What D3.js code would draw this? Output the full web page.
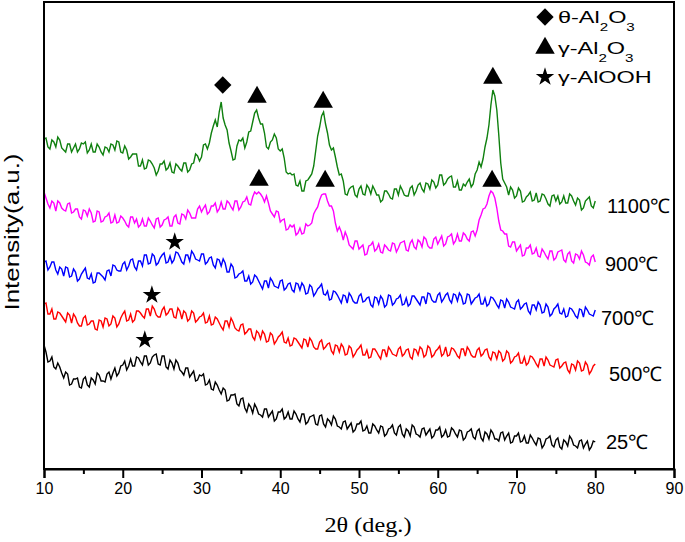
<!DOCTYPE html>
<html>
<head>
<meta charset="utf-8">
<script src="https://cdn.jsdelivr.net/npm/d3@7"></script>
<style>
  body { margin: 0; background: #fff; }
  text { font-family: "Liberation Sans", Arial, sans-serif; }
</style>
</head>
<body>
<div id="chart"></div>
<script>
var width = 685, height = 542;
var margin = {top: 2, right: 11, bottom: 73, left: 44};

// 2theta sampling grid (deg), 10..80 every 0.25
var twoTheta = d3.range(10, 80.1, 0.25);
var xTicks = [10, 20, 30, 40, 50, 60, 70, 80, 90];
var xMinorTicks = [15, 25, 35, 45, 55, 65, 75, 85];

// intensities (a.u., curves already stacked like the figure), one row = 2.5 deg
var int1100 = [331,332,323,321,330,328,323,333,330,322,320,318,326,326,318,322,326,318,321,327,
  326,328,317,320,326,318,318,326,323,318,315,323,322,318,326,325,320,329,328,318,
  317,324,320,311,313,316,316,316,304,304,310,301,302,310,309,306,302,295,299,306,
  306,309,300,302,307,298,297,306,304,301,299,307,307,298,300,306,307,316,314,309,
  313,325,326,321,327,337,344,350,343,358,368,352,345,340,327,319,310,311,324,330,
  329,332,322,328,338,339,348,357,360,352,346,346,337,323,321,328,330,336,332,321,
  319,321,312,298,296,297,295,296,285,284,289,279,279,289,290,293,296,304,319,334,
  343,354,358,346,337,325,320,322,313,303,295,296,289,276,275,281,283,284,275,273,
  281,284,276,275,285,282,276,284,280,275,275,268,270,279,279,276,272,271,281,281,
  275,284,280,275,274,274,282,284,275,279,285,287,281,278,287,286,281,290,288,282,
  285,295,295,285,287,291,293,294,283,283,289,280,280,286,284,288,291,283,286,296,
  300,308,303,311,323,332,345,365,380,374,360,335,307,291,287,283,275,283,280,272,
  274,282,279,268,269,273,275,278,269,270,277,268,269,276,275,271,266,264,274,275,
  269,274,266,268,274,267,267,276,274,269,265,272,270,260,262,269,271,273,264,262,
  269];
var int900 = [278,272,266,262,269,267,259,269,267,262,260,259,266,267,257,258,261,261,253,251,
  260,259,254,261,257,248,249,259,258,248,249,253,254,257,247,248,255,247,248,254,
  252,249,245,243,253,253,247,251,243,245,251,244,244,252,249,245,242,251,252,243,
  245,250,251,253,244,244,253,255,247,246,256,255,251,260,257,252,252,252,261,264,
  258,262,265,256,258,264,264,267,258,261,268,261,261,269,267,263,260,269,269,260,
  263,268,269,273,266,265,273,278,276,278,276,273,268,274,267,259,256,253,259,258,
  248,250,251,240,241,245,243,245,235,237,242,236,237,246,244,245,247,256,260,263,
  270,275,276,276,269,264,264,259,247,239,243,238,230,238,233,225,223,221,229,229,
  221,223,225,215,216,224,225,228,219,221,226,218,217,225,223,220,219,227,226,218,
  222,227,228,229,220,219,227,230,223,221,230,228,223,233,231,224,222,222,231,233,
  226,230,234,224,226,233,234,236,226,229,236,229,229,237,235,231,229,238,239,234,
  240,250,255,261,262,266,274,279,277,272,262,249,240,239,236,236,224,223,228,228,
  219,222,225,214,215,222,222,225,216,217,222,214,213,221,218,214,211,219,219,210,
  212,218,219,220,210,208,216,218,209,207,216,215,211,219,215,208,207,205,213,215,
  208];
var int700 = [208,209,200,203,208,208,200,196,203,201,194,203,202,193,194,201,198,189,191,196,
  199,202,192,191,196,187,188,197,197,195,193,190,199,200,194,205,204,200,199,199,
  206,208,200,204,210,211,203,200,209,209,204,215,215,206,207,216,214,205,207,212,
  215,217,207,208,214,207,210,218,217,213,208,206,215,215,209,219,216,211,210,209,
  216,216,206,208,212,213,205,202,211,210,204,211,207,198,198,206,203,192,193,196,
  197,199,189,189,194,186,188,195,193,189,185,181,189,189,182,192,189,184,183,182,
  189,190,180,182,186,187,180,178,187,186,180,187,184,176,177,185,183,174,177,181,
  183,186,176,175,179,170,171,179,178,175,171,167,175,174,167,177,174,169,167,167,
  174,176,168,169,172,173,165,163,173,172,166,174,171,163,165,175,174,165,167,171,
  172,175,165,166,172,164,166,174,174,171,168,165,173,173,166,177,176,170,168,168,
  175,177,168,171,175,177,170,167,176,175,169,177,174,166,167,176,175,166,169,172,
  173,176,166,166,172,164,166,173,172,169,165,162,170,169,162,171,168,163,162,161,
  168,170,161,163,166,167,159,156,165,165,160,168,165,157,158,166,163,154,156,161,
  163,166,157,156,161,153,154,162,161,158,154,152,161,160,153,163,160,156,155,154,
  160];
var int500 = [166,167,156,156,161,151,151,158,157,154,151,148,157,155,147,156,153,147,144,144,
  152,154,145,146,149,149,141,140,150,149,143,152,151,144,146,154,152,143,146,152,
  156,159,149,150,156,148,150,159,159,157,154,152,161,161,154,164,161,155,153,153,
  160,163,155,157,161,161,153,152,162,159,151,159,157,149,151,159,157,148,150,153,
  154,157,147,148,154,145,146,153,151,147,143,140,149,149,143,152,148,142,140,139,
  145,146,136,138,141,141,133,130,139,137,131,139,136,128,129,137,135,126,129,133,
  135,138,128,127,132,124,125,132,131,128,125,122,131,130,123,132,129,123,121,121,
  128,130,121,123,126,127,119,116,125,124,118,126,123,115,116,124,122,113,116,120,
  122,125,115,115,120,112,113,121,121,118,114,111,120,120,113,123,120,116,115,114,
  121,123,114,116,120,121,113,111,121,120,115,123,121,113,115,124,122,113,115,119,
  121,124,114,116,123,114,115,122,121,118,114,112,121,121,114,123,120,115,113,113,
  120,122,114,116,120,121,113,110,118,117,111,119,117,109,111,119,117,107,109,113,
  114,117,107,107,113,105,107,114,113,110,106,103,111,111,104,113,110,105,104,103,
  110,111,102,104,107,108,100,97,106,105,100,109,107,99,100,108,105,96,99,104,
  106];
var int25 = [125,118,108,109,113,103,101,107,103,97,92,98,96,85,86,91,91,92,83,82,
  91,93,85,83,92,90,86,97,95,89,89,88,96,98,91,97,102,94,97,104,
  105,109,100,104,111,104,104,113,112,108,105,114,114,105,107,113,115,116,106,105,
  114,114,103,101,110,107,101,110,107,100,98,95,102,102,93,96,99,89,90,95,
  94,96,85,86,90,81,80,88,85,80,76,82,80,69,70,75,75,76,66,64,
  71,72,62,58,66,63,57,66,62,56,55,53,61,61,53,56,59,49,51,58,
  58,61,51,53,58,51,51,59,56,51,48,56,56,46,48,53,54,55,46,45,
  54,55,46,43,51,49,45,54,51,44,43,41,48,49,41,44,47,38,40,46,
  46,49,39,40,44,37,37,46,44,40,37,44,43,34,36,41,42,45,37,35,
  43,45,36,33,41,39,34,45,43,36,35,33,41,42,35,38,41,32,34,40,
  40,43,33,35,40,33,34,42,40,36,33,40,39,30,32,38,39,41,33,31,
  39,41,32,29,38,36,31,40,37,31,31,29,37,38,30,34,37,27,28,34,
  34,37,28,29,34,27,27,35,32,28,25,32,31,22,25,31,32,34,25,23,
  30,32,23,21,30,28,24,34,31,25,24,22,29,30,22,26,29,20,23,29,
  28];

var seriesNames = ["1100℃", "900℃", "700℃", "500℃", "25℃"];
var seriesColors = ["#0f800f", "#ff00ff", "#0000ff", "#ff0000", "#000000"];
var seriesValues = [int1100, int900, int700, int500, int25];

// phase markers: type, 2theta, level
var markType = ["theta", "gamma", "gamma", "gamma", "gamma", "gamma", "gamma", "alooh", "alooh", "alooh"];
var markDeg = [32.7, 37.05, 45.45, 67.0, 37.3, 45.7, 66.9, 26.6, 23.7, 22.8];
var markLevel = [385, 373, 368, 392, 290, 289, 289, 228, 175, 130];

var legendKeys = ["theta", "gamma", "alooh"];

var svg = d3.select("#chart").append("svg")
  .attr("width", width)
  .attr("height", height);

var x = d3.scaleLinear().domain([10, 90]).range([margin.left, width - margin.right]);
var y = d3.scaleLinear().domain([1, 468]).range([height - margin.bottom, margin.top]);

// curves
var line = d3.line()
  .defined(function(d, i) { return i < twoTheta.length; })
  .x(function(d, i) { return x(twoTheta[i]); })
  .y(function(d) { return y(d); });

seriesValues.forEach(function(vals, k) {
  svg.append("path")
    .datum(vals)
    .attr("fill", "none")
    .attr("stroke", seriesColors[k])
    .attr("stroke-width", 1.4)
    .attr("d", line);
});

// frame
svg.append("rect")
  .attr("x", x(10)).attr("y", margin.top)
  .attr("width", x(90) - x(10))
  .attr("height", height - margin.bottom - margin.top)
  .attr("fill", "none")
  .attr("stroke", "#000")
  .attr("stroke-width", 2);

var xAxis = svg.append("g")
  .attr("transform", "translate(0," + (height - margin.bottom) + ")")
  .call(d3.axisBottom(x).tickValues(xTicks).tickSize(9).tickPadding(5).tickFormat(d3.format("d")));
xAxis.select(".domain").attr("stroke-width", 2);
xAxis.selectAll(".tick line").attr("stroke-width", 2);
xAxis.selectAll("text").attr("font-size", 16).attr("fill", "#000")
  .attr("font-family", "'Liberation Sans', Arial, sans-serif");

svg.append("g")
  .attr("transform", "translate(0," + (height - margin.bottom) + ")")
  .call(d3.axisBottom(x).tickValues(xMinorTicks).tickSize(5).tickFormat(""))
  .call(function(g) { g.select(".domain").remove(); })
  .selectAll(".tick line").attr("stroke-width", 2);

// axis titles
svg.append("text")
  .attr("x", 368).attr("y", 532)
  .attr("text-anchor", "middle")
  .style("font-family", "'Liberation Serif', 'Times New Roman', serif")
  .attr("font-size", 22)
  .attr("textLength", 87)
  .attr("lengthAdjust", "spacingAndGlyphs")
  .text("2θ (deg.)");

svg.append("text")
  .attr("transform", "translate(19,232) rotate(-90)")
  .attr("text-anchor", "middle")
  .attr("font-size", 21)
  .attr("textLength", 157)
  .attr("lengthAdjust", "spacingAndGlyphs")
  .text("Intensity(a.u.)");

// temperature labels
var labelX = [607, 605, 601, 609, 606];
var labelY = [213, 271, 325, 381, 449];
seriesNames.forEach(function(name, k) {
  svg.append("text")
    .attr("x", labelX[k]).attr("y", labelY[k])
    .attr("font-size", 20)
    .attr("fill", "#000")
    .text(name);
});

// marker symbols
function markerPath(type) {
  if (type === "theta") return d3.symbol().type(d3.symbolSquare).size(150)();
  if (type === "gamma") return d3.symbol().type(d3.symbolTriangle).size(165)();
  return d3.symbol().type(d3.symbolStar).size(105)();
}
function markerRot(type) { return type === "theta" ? " rotate(45)" : ""; }

markType.forEach(function(t, i) {
  svg.append("path")
    .attr("d", markerPath(t))
    .attr("transform", "translate(" + x(markDeg[i]) + "," + y(markLevel[i]) + ")" + markerRot(t))
    .attr("fill", "#000");
});

// legend (its lettering is drawn wide in the source figure)
var legend = svg.append("g");
var legY = [17, 48, 77];
legendKeys.forEach(function(t, i) {
  legend.append("path")
    .attr("d", markerPath(t))
    .attr("transform", "translate(545," + legY[i] + ")" + markerRot(t))
    .attr("fill", "#000");
});

function oxide(prefix, yy) {
  var tx = legend.append("text")
    .attr("transform", "translate(558," + yy + ") scale(1.38,1)")
    .attr("font-size", 17);
  tx.append("tspan").text(prefix + "-Al");
  tx.append("tspan").attr("dy", 8).attr("font-size", 11).text("2");
  tx.append("tspan").attr("dy", -8).text("O");
  tx.append("tspan").attr("dy", 8).attr("font-size", 11).text("3");
}
oxide("θ", 23);
oxide("γ", 54);
legend.append("text")
  .attr("transform", "translate(558,83) scale(1.38,1)")
  .attr("font-size", 17)
  .text("γ-AlOOH");
</script>
</body>
</html>
